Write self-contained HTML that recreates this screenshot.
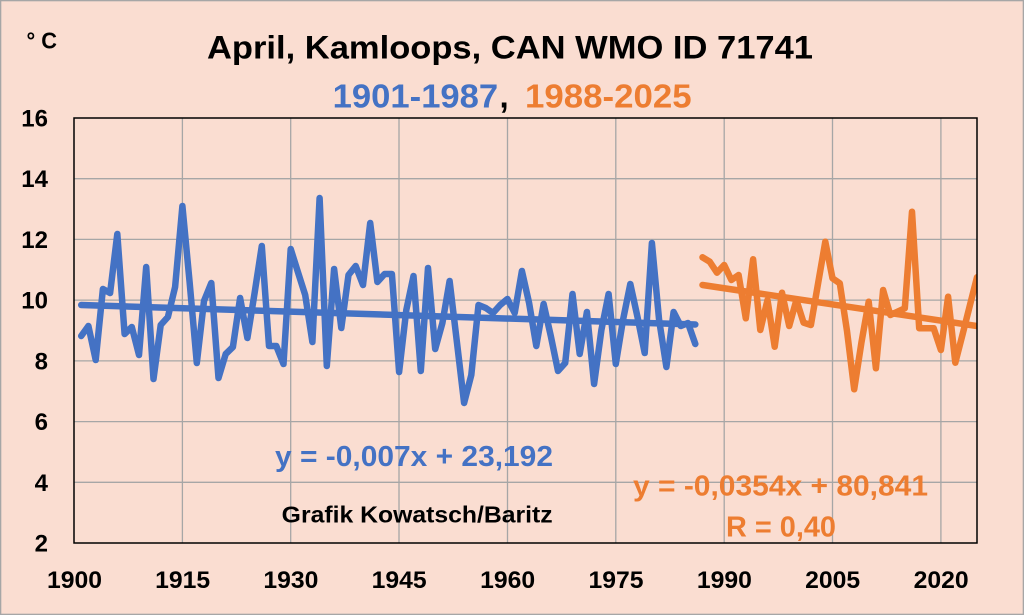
<!DOCTYPE html>
<html>
<head>
<meta charset="utf-8">
<style>
html,body{margin:0;padding:0;background:#FADDD1;}
svg{display:block;}
text{font-family:"Liberation Sans",Arial,sans-serif;font-weight:bold;}
</style>
</head>
<body>
<svg width="1024" height="615" viewBox="0 0 1024 615" xmlns="http://www.w3.org/2000/svg">
<defs>
<clipPath id="pa"><rect x="74" y="118" width="903" height="425"/></clipPath>
</defs>
<rect x="0.65" y="0.65" width="1022.7" height="613.7" fill="#FADDD1" stroke="#A6A6A6" stroke-width="1.3"/>

<!-- gridlines -->
<g stroke="#A6A6A6" stroke-width="1.3">
<line x1="74" y1="178.7" x2="977" y2="178.7"/>
<line x1="74" y1="239.4" x2="977" y2="239.4"/>
<line x1="74" y1="300.1" x2="977" y2="300.1"/>
<line x1="74" y1="360.9" x2="977" y2="360.9"/>
<line x1="74" y1="421.6" x2="977" y2="421.6"/>
<line x1="74" y1="482.3" x2="977" y2="482.3"/>
<line x1="182.4" y1="118" x2="182.4" y2="543"/>
<line x1="290.7" y1="118" x2="290.7" y2="543"/>
<line x1="399" y1="118" x2="399" y2="543"/>
<line x1="507.5" y1="118" x2="507.5" y2="543"/>
<line x1="615.8" y1="118" x2="615.8" y2="543"/>
<line x1="724.2" y1="118" x2="724.2" y2="543"/>
<line x1="832.5" y1="118" x2="832.5" y2="543"/>
<line x1="940.9" y1="118" x2="940.9" y2="543"/>
</g>

<!-- equations & credit (behind series) -->
<text x="275" y="466" font-size="29" fill="#4472C4" textLength="278" lengthAdjust="spacingAndGlyphs">y = -0,007x + 23,192</text>
<text x="281.7" y="522.7" font-size="23" fill="#000" textLength="271" lengthAdjust="spacingAndGlyphs">Grafik Kowatsch/Baritz</text>
<text x="633" y="495.5" font-size="29" fill="#ED7D31" textLength="295" lengthAdjust="spacingAndGlyphs">y = -0,0354x + 80,841</text>
<text x="726" y="536.5" font-size="29" fill="#ED7D31" textLength="110" lengthAdjust="spacingAndGlyphs">R = 0,40</text>

<g clip-path="url(#pa)" fill="none" stroke-width="6.5" stroke-linecap="round" stroke-linejoin="round">
<polyline stroke="#4472C4" points="81.2,336 88.4,326 95.7,360 102.9,289 110.1,293 117.3,234 124.6,334 131.8,327 139.0,355 146.2,267 153.5,379 160.7,325 167.9,317 175.1,287 182.4,206 189.6,282 196.8,363 204.0,301 211.3,283 218.5,378 225.7,354 232.9,347 240.1,298 247.4,338 254.6,293 261.8,246 269.0,346 276.3,346 283.5,364 290.7,249 297.9,272 305.2,295 312.4,342 319.6,198 326.8,366 334.1,269 341.3,328 348.5,275 355.7,266 363.0,285 370.2,223 377.4,282 384.6,274 391.9,274 399.1,372 406.3,310 413.5,276 420.8,371 428.0,268 435.2,349 442.4,323 449.6,281 456.9,342 464.1,403 471.3,375 478.5,305 485.8,308 493.0,313 500.2,305 507.4,299 514.7,313 521.9,271 529.1,303 536.3,346 543.6,304 550.8,336 558.0,371 565.2,363 572.5,294 579.7,354 586.9,312 594.1,384 601.4,330 608.6,294 615.8,364 623.0,320 630.3,284 637.5,317 644.7,353 651.9,243 659.1,320 666.4,367 673.6,312 680.8,326 688.0,323 695.3,344"/>
<line stroke="#4472C4" x1="81.2" y1="305" x2="695.3" y2="324.5"/>
<polyline stroke="#ED7D31" points="702.5,257.3 709.7,261.7 717.0,272.7 724.2,265 731.4,280 738.6,275 745.8,318.3 753.1,259.3 760.3,330 767.5,300 774.7,346.7 782.0,292.7 789.2,326 796.4,300 803.6,322.7 810.9,325 818.1,283.3 825.3,241.7 832.5,278.3 839.8,283.3 847.0,331 854.2,389.3 861.4,342.7 868.7,301.7 875.9,368.3 883.1,290 890.3,315 897.5,311.7 904.8,308.3 912.0,211.7 919.2,328.3 926.4,328.3 933.7,328.3 940.9,350 948.1,296.7 955.3,362.7 962.6,334.3 969.8,305.7 977.0,277.3"/>
<line stroke="#ED7D31" x1="702.5" y1="285" x2="977" y2="326"/>
</g>

<!-- plot border -->
<rect x="74" y="118" width="903" height="425" fill="none" stroke="#000" stroke-width="1.5"/>

<!-- y labels -->
<g font-size="24" fill="#000" text-anchor="end">
<text x="48" y="126.5">16</text>
<text x="48" y="187.2">14</text>
<text x="48" y="247.9">12</text>
<text x="48" y="308.6">10</text>
<text x="48" y="369.4">8</text>
<text x="48" y="430.1">6</text>
<text x="48" y="490.8">4</text>
<text x="48" y="551.5">2</text>
</g>

<!-- x labels -->
<g font-size="24" fill="#000" text-anchor="middle">
<text x="74.5" y="588" textLength="55" lengthAdjust="spacingAndGlyphs">1900</text>
<text x="182.6" y="588" textLength="55" lengthAdjust="spacingAndGlyphs">1915</text>
<text x="290.9" y="588" textLength="55" lengthAdjust="spacingAndGlyphs">1930</text>
<text x="399.2" y="588" textLength="55" lengthAdjust="spacingAndGlyphs">1945</text>
<text x="507.7" y="588" textLength="55" lengthAdjust="spacingAndGlyphs">1960</text>
<text x="616" y="588" textLength="55" lengthAdjust="spacingAndGlyphs">1975</text>
<text x="724.4" y="588" textLength="55" lengthAdjust="spacingAndGlyphs">1990</text>
<text x="832.7" y="588" textLength="55" lengthAdjust="spacingAndGlyphs">2005</text>
<text x="941.1" y="588" textLength="55" lengthAdjust="spacingAndGlyphs">2020</text>
</g>

<!-- unit -->
<text x="26.5" y="48.3" font-size="23" fill="#000" textLength="30.5" lengthAdjust="spacingAndGlyphs">° C</text>

<!-- titles -->
<text x="207" y="58.3" font-size="32" fill="#000" textLength="606" lengthAdjust="spacingAndGlyphs">April, Kamloops, CAN WMO ID 71741</text>
<text x="332.7" y="107.3" font-size="33" fill="#4472C4" textLength="165.5" lengthAdjust="spacingAndGlyphs">1901-1987</text>
<text x="499.5" y="107.3" font-size="33" fill="#000">,</text>
<text x="525" y="107.3" font-size="33" fill="#ED7D31" textLength="166.7" lengthAdjust="spacingAndGlyphs">1988-2025</text>
</svg>
</body>
</html>
